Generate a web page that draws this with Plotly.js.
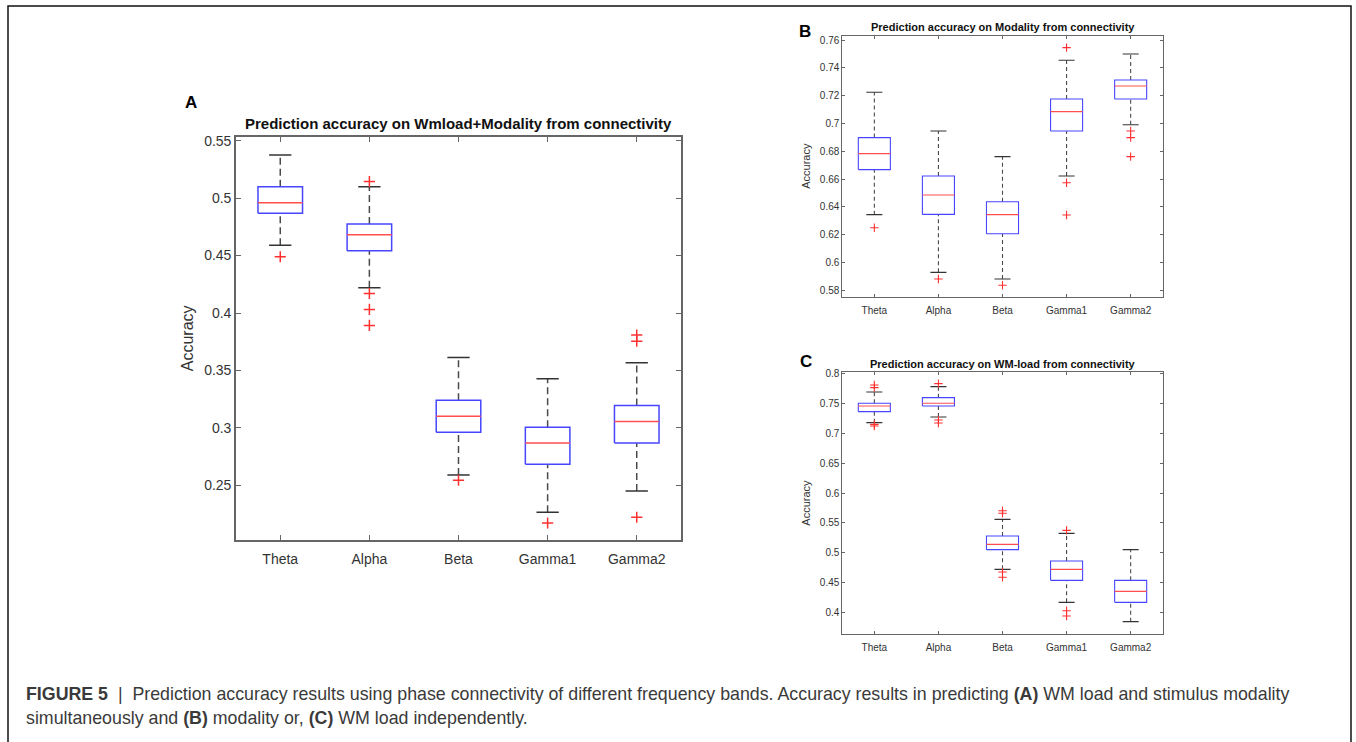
<!DOCTYPE html>
<html>
<head>
<meta charset="utf-8">
<script src="https://cdn.plot.ly/plotly-3.0.1.min.js"></script>
<style>
html,body{margin:0;padding:0;background:#fff;}
#chart{width:1356px;height:742px;}
</style>
</head>
<body>
<div id="chart"></div>
<script>
const bands = ['Theta', 'Alpha', 'Beta', 'Gamma1', 'Gamma2'];

// Panel A: Wmload+Modality
const aLowWhisker  = [0.4591, 0.4220, 0.2590, 0.2266, 0.2451];
const aQ1          = [0.4868, 0.4542, 0.2963, 0.2684, 0.2869];
const aMedian      = [0.4960, 0.4681, 0.3102, 0.2869, 0.3056];
const aQ3          = [0.5099, 0.4774, 0.3241, 0.3006, 0.3195];
const aHighWhisker = [0.5375, 0.5099, 0.3613, 0.3427, 0.3566];
const aOutliers    = [[0.4490], [0.5145, 0.4170, 0.4031, 0.3892], [0.2544], [0.2172], [0.3808, 0.3755, 0.2222]];
const aTicks = [0.25, 0.3, 0.35, 0.4, 0.45, 0.5, 0.55];

// Panel B: Modality
const bLowWhisker  = [0.6344, 0.5929, 0.5881, 0.6622, 0.6991];
const bQ1          = [0.6668, 0.6346, 0.6207, 0.6946, 0.7176];
const bMedian      = [0.6783, 0.6485, 0.6344, 0.7085, 0.7269];
const bQ3          = [0.6898, 0.6622, 0.6437, 0.7176, 0.7312];
const bHighWhisker = [0.7224, 0.6946, 0.6761, 0.7454, 0.7499];
const bOutliers    = [[0.6250], [0.5881], [0.5836], [0.7545, 0.6574, 0.6342], [0.6946, 0.6898, 0.6761]];
const bTicks = [0.58, 0.6, 0.62, 0.64, 0.66, 0.68, 0.7, 0.72, 0.74, 0.76];

// Panel C: WM-load
const cLowWhisker  = [0.7183, 0.7278, 0.4722, 0.4168, 0.3844];
const cQ1          = [0.7368, 0.7463, 0.5052, 0.4537, 0.4168];
const cMedian      = [0.7463, 0.7508, 0.5141, 0.4722, 0.4353];
const cQ3          = [0.7508, 0.7603, 0.5281, 0.4862, 0.4537];
const cHighWhisker = [0.7698, 0.7787, 0.5561, 0.5326, 0.5052];
const cOutliers    = [[0.7815, 0.7771, 0.7155, 0.7127], [0.7838, 0.7228, 0.7178], [0.5706, 0.5662, 0.4677, 0.4588], [0.5376, 0.4028, 0.3939], []];
const cTicks = [0.4, 0.45, 0.5, 0.55, 0.6, 0.65, 0.7, 0.75, 0.8];

const FONT = 'Liberation Sans, Arial, Helvetica, sans-serif';
const BOX_HALF = 0.25, CAP_HALF = 0.125;

function panelTraces(xa, ya, lo, q1, med, q3, hi, outs, st) {
  const wx = [], wy = [], cx = [], cy = [], bx = [], by = [], mx = [], my = [], ox = [], oy = [];
  bands.forEach((b, i) => {
    const p = i + 1;
    wx.push(p, p, null, p, p, null); wy.push(q3[i], hi[i], null, lo[i], q1[i], null);
    cx.push(p - CAP_HALF, p + CAP_HALF, null, p - CAP_HALF, p + CAP_HALF, null);
    cy.push(hi[i], hi[i], null, lo[i], lo[i], null);
    bx.push(p - BOX_HALF, p + BOX_HALF, p + BOX_HALF, p - BOX_HALF, p - BOX_HALF, null);
    by.push(q1[i], q1[i], q3[i], q3[i], q1[i], null);
    mx.push(p - BOX_HALF, p + BOX_HALF, null); my.push(med[i], med[i], null);
    outs[i].forEach(v => { ox.push(p); oy.push(v); });
  });
  const base = {xaxis: xa, yaxis: ya, type: 'scatter', hoverinfo: 'skip', showlegend: false};
  return [
    Object.assign({}, base, {x: wx, y: wy, mode: 'lines', line: {color: '#4a4a4a', width: st.lw, dash: st.dash}}),
    Object.assign({}, base, {x: cx, y: cy, mode: 'lines', line: {color: '#333', width: st.lw}}),
    Object.assign({}, base, {x: bx, y: by, mode: 'lines', line: {color: '#4646ff', width: st.lw}}),
    Object.assign({}, base, {x: mx, y: my, mode: 'lines', line: {color: '#ff4f4f', width: st.lw}}),
    Object.assign({}, base, {x: ox, y: oy, mode: 'markers', marker: {symbol: 'cross-thin-open', size: st.ms, color: '#ff3030', line: {color: '#ff3030', width: st.lw}}})
  ];
}

const data = [].concat(
  panelTraces('x', 'y', aLowWhisker, aQ1, aMedian, aQ3, aHighWhisker, aOutliers, {lw: 1.5, dash: '7px,4px', ms: 8}),
  panelTraces('x2', 'y2', bLowWhisker, bQ1, bMedian, bQ3, bHighWhisker, bOutliers, {lw: 1.1, dash: '4px,3px', ms: 6}),
  panelTraces('x3', 'y3', cLowWhisker, cQ1, cMedian, cQ3, cHighWhisker, cOutliers, {lw: 1.1, dash: '4px,3px', ms: 6})
);

function xAxis(domain, anchor, fs, lw, tl, standoff) {
  return {domain: domain, anchor: anchor, range: [0.5, 5.5], tickvals: bands.map((b, i) => i + 1), ticktext: bands,
    ticks: 'inside', ticklen: tl, tickcolor: '#666', tickwidth: 1, mirror: 'ticks', showline: true, linecolor: '#666', linewidth: lw,
    showgrid: false, zeroline: false, tickfont: {family: FONT, size: fs, color: '#333'}, ticklabelstandoff: standoff, fixedrange: true};
}
function yAxis(domain, anchor, range, ticks, fs, lw, tl, tfs) {
  return {domain: domain, anchor: anchor, range: range, tickvals: ticks, ticks: 'inside', ticklen: tl, tickcolor: '#666', tickwidth: 1,
    mirror: 'ticks', showline: true, linecolor: '#666', linewidth: lw, showgrid: false, zeroline: false,
    tickfont: {family: FONT, size: fs, color: '#333'}, title: {text: 'Accuracy', font: {family: FONT, size: tfs, color: '#333'}}, fixedrange: true};
}

const W = 1356, H = 742;
const px = v => v / W, py = v => 1 - v / H;

const layout = {
  width: W, height: H, margin: {l: 0, r: 0, t: 0, b: 0}, paper_bgcolor: '#fff', plot_bgcolor: '#fff', showlegend: false,
  xaxis: xAxis([px(235.7), px(681.3)], 'y', 14, 1.5, 5, 6),
  yaxis: yAxis([py(540), py(136.7)], 'x', [0.2024, 0.5535], aTicks, 14, 1.5, 5, 16),
  xaxis2: xAxis([px(842.3), px(1162.7)], 'y2', 10, 1, 3, 4),
  yaxis2: yAxis([py(296.7), py(35.7)], 'x2', [0.5754, 0.7631], bTicks, 10, 1, 3, 11),
  xaxis3: xAxis([px(842.3), px(1162.7)], 'y3', 10, 1, 3, 4),
  yaxis3: yAxis([py(633.7), py(372.3)], 'x3', [0.3642, 0.8028], cTicks, 10, 1, 3, 11),
  shapes: [
    {type: 'rect', xref: 'paper', yref: 'paper', x0: px(8), x1: px(1351), y0: -0.05, y1: py(6), line: {color: '#111', width: 1.5}, fillcolor: 'rgba(0,0,0,0)'}
  ],
  annotations: [
    {text: '<b>Prediction accuracy on Wmload+Modality from connectivity</b>', xref: 'paper', yref: 'paper', x: px(458.5), y: py(123.5), showarrow: false, font: {family: FONT, size: 15, color: '#111'}, xanchor: 'center', yanchor: 'middle'},
    {text: '<b>Prediction accuracy on Modality from connectivity</b>', xref: 'paper', yref: 'paper', x: px(1002.5), y: py(27.5), showarrow: false, font: {family: FONT, size: 11, color: '#111'}, xanchor: 'center', yanchor: 'middle'},
    {text: '<b>Prediction accuracy on WM-load from connectivity</b>', xref: 'paper', yref: 'paper', x: px(1002.5), y: py(364), showarrow: false, font: {family: FONT, size: 11, color: '#111'}, xanchor: 'center', yanchor: 'middle'},
    {text: '<b>A</b>', xref: 'paper', yref: 'paper', x: px(191), y: py(102), showarrow: false, font: {family: FONT, size: 17, color: '#000'}, xanchor: 'center', yanchor: 'middle'},
    {text: '<b>B</b>', xref: 'paper', yref: 'paper', x: px(805), y: py(31), showarrow: false, font: {family: FONT, size: 17, color: '#000'}, xanchor: 'center', yanchor: 'middle'},
    {text: '<b>C</b>', xref: 'paper', yref: 'paper', x: px(806), y: py(362), showarrow: false, font: {family: FONT, size: 17, color: '#000'}, xanchor: 'center', yanchor: 'middle'},
    {text: '<b>FIGURE 5</b>  |  Prediction accuracy results using phase connectivity of different frequency bands. Accuracy results in predicting <b>(A)</b> WM load and stimulus modality', xref: 'paper', yref: 'paper', x: px(24), y: py(694), showarrow: false, font: {family: FONT, size: 17.8, color: '#3a3a3a'}, xanchor: 'left', yanchor: 'middle'},
    {text: 'simultaneously and <b>(B)</b> modality or, <b>(C)</b> WM load independently.', xref: 'paper', yref: 'paper', x: px(24), y: py(718), showarrow: false, font: {family: FONT, size: 17.8, color: '#3a3a3a'}, xanchor: 'left', yanchor: 'middle'}
  ]
};

Plotly.newPlot('chart', data, layout, {staticPlot: true, displayModeBar: false});
</script>
</body>
</html>
